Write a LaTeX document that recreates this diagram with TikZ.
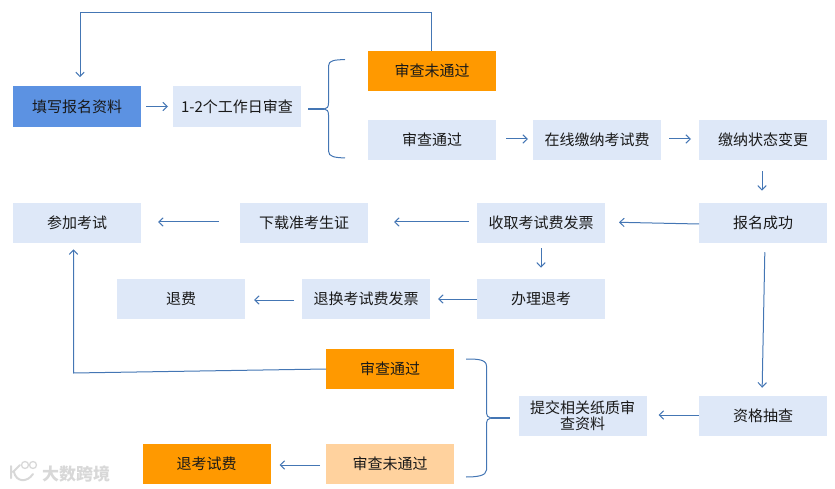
\documentclass[tikz,border=0pt]{standalone}
\usepackage{fontspec}
\setmainfont{Noto Sans CJK SC}
\usetikzlibrary{arrows.meta,calc}
\definecolor{paleblue}{HTML}{DEE8F8}
\definecolor{midblue}{HTML}{5C92E2}
\definecolor{orangebox}{HTML}{FF9900}
\definecolor{peach}{HTML}{FFD29E}
\definecolor{linkblue}{HTML}{4476B4}
\definecolor{mark}{HTML}{D8D8D8}
\tikzset{
  boxbase/.style={minimum width=128pt,minimum height=40.5pt,inner sep=0pt,align=center,text=black!90,
    font=\fontsize{15}{17}\selectfont,outer sep=0pt},
  pale/.style={boxbase,fill=paleblue},
  strong/.style={boxbase,fill=midblue},
  warn/.style={boxbase,fill=orangebox},
  soft/.style={boxbase,fill=peach},
  link/.style={draw=linkblue,line width=1pt,-{Straight Barb[length=4.5pt,width=8.5pt,line width=1pt]}},
  brace/.style={draw=linkblue,line width=1pt,line join=round},
  stem/.style={draw=linkblue,line width=1.6pt},
  wm/.style={draw=mark,line width=2pt,fill=none,line cap=round}
}
\begin{document}
\begin{tikzpicture}[x=1pt,y=-1pt]
\useasboundingbox (0,0) rectangle (835,489);
% row 1
\node[strong] (fill) at (77,106.5) {填写报名资料};
\node[pale] (check) at (237,106.5) {1-2个工作日审查};
\node[warn] (fail) at (432,71) {审查未通过};
\node[pale] (pass) at (432,140) {审查通过};
\node[pale] (pay) at (597,140) {在线缴纳考试费};
\node[pale] (state) at (763,140) {缴纳状态变更};
% row 2
\node[pale] (ok) at (763,223) {报名成功};
\node[pale] (invoice) at (541,223) {收取考试费发票};
\node[pale] (ticket) at (304,223) {下载准考生证};
\node[pale] (exam) at (77,223) {参加考试};
% row 3
\node[pale] (quit) at (541,299) {办理退考};
\node[pale] (swap) at (366,299) {退换考试费发票};
\node[pale] (refund) at (181,299) {退费};
% row 4-5
\node[warn] (pass2) at (390,369) {审查通过};
\node[soft] (fail2) at (390,464) {审查未通过};
\node[warn] (refund2) at (206.5,464) {退考试费};
\node[pale] (paper) at (582.5,416) {提交相关纸质审\\[-1pt]查资料};
\node[pale] (spot) at (763,416) {资格抽查};
% straight arrows
\draw[link,shorten <=5pt,shorten >=5pt] (fill) -- (check);
\draw[link,shorten <=10pt,shorten >=5pt] ([yshift=1pt]pass.east) -- ([yshift=1pt]pay.west);
\draw[link,shorten <=8pt,shorten >=8pt] ([yshift=1pt]pay.east) -- ([yshift=1pt]state.west);
\draw[link,shorten <=11pt,shorten >=12pt] ([xshift=-1pt]state.south) -- ([xshift=-1pt]ok.north);
\draw[link,shorten >=14pt] ([yshift=-1pt]ok.west) -- ([yshift=1pt]invoice.east);
\draw[link,shorten <=8pt,shorten >=26pt] ([yshift=1pt]invoice.west) -- ([yshift=1pt]ticket.east);
\draw[link,shorten <=21pt,shorten >=17pt] ([yshift=1pt]ticket.west) -- ([yshift=1pt]exam.east);
\draw[link,shorten <=5pt,shorten >=11pt] (invoice.south) -- (quit.north);
\draw[link,shorten <=0pt,shorten >=8pt] (quit.west) -- (swap.east);
\draw[link,shorten <=8pt,shorten >=9pt] ([yshift=-1pt]swap.west) -- ([yshift=-1pt]refund.east);
\draw[link,shorten <=9pt,shorten >=8pt] ([xshift=2pt]ok.south) -- ([xshift=-1pt]spot.north);
\draw[link,shorten >=12pt] ([yshift=1pt]spot.west) -- ([yshift=1pt]paper.east);
\draw[link,shorten <=6pt,shorten >=9pt] ([yshift=-1pt]fail2.west) -- ([yshift=-1pt]refund2.east);
% elbow connectors
\coordinate (loopR) at (431,12.5);
\coordinate (loopL) at (80,12.5);
\draw[link,shorten >=9pt,line join=miter] (fail.north -| loopR) -- (loopR) -- (loopL) -- ([xshift=3pt]fill.north);
\coordinate (backC) at (73.5,373);
\draw[link,shorten >=6pt] (pass2.west) -- (backC) -- ([xshift=-3.5pt]exam.south);
% braces
\coordinate (b1t) at (345,59.5);
\coordinate (b1b) at (345,158);
\coordinate (b1m) at (324,109);
\coordinate (b2t) at (466,359);
\coordinate (b2b) at (466,477);
\coordinate (b2m) at (491,418);
\draw[brace] (b1t) .. controls (335,60) and (328.5,60) .. (328.5,66)
  -- (328.5,103) .. controls (328.5,107) and (327,109) .. (b1m)
  .. controls (327,109) and (328.5,111) .. (328.5,115)
  -- (328.5,151) .. controls (328.5,157) and (335,157.5) .. (b1b);
\draw[stem] (b1m) -- ([xshift=-16pt]b1m);
\draw[brace] (b2t) .. controls (476,359) and (486.5,359) .. (486.5,366)
  -- (486.5,411) .. controls (486.5,416) and (488,418) .. (b2m)
  .. controls (488,418) and (486.5,420) .. (486.5,425)
  -- (486.5,470) .. controls (486.5,476) and (476,477) .. (b2b);
\draw[stem] (b2m) -- ([xshift=19pt]b2m);
% watermark
\draw[wm] (11,466) -- (11,478) (13,472) -- (20,465) (14,472) .. controls (16,482) and (27,483) .. (33,474);
\draw[wm,line width=1.3pt] (25,465) circle (3.5pt) (33,465) circle (3.5pt);
\node[inner sep=0pt,text=mark,font=\fontsize{17}{17}\selectfont\bfseries] (wmtext) at (76,474) {大数跨境};
\end{tikzpicture}
\end{document}
